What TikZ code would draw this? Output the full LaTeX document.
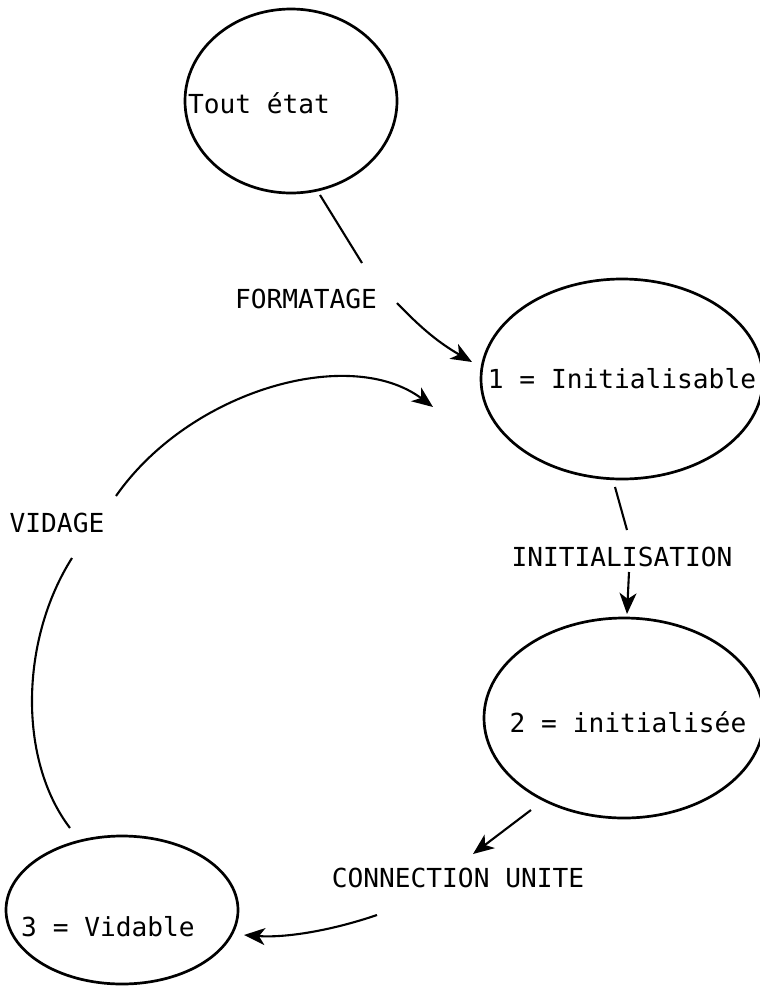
\documentclass[tikz,border=0pt]{standalone}
\usepackage{fontspec}
\newfontfamily\typewr{DejaVu Sans Mono}
\usetikzlibrary{shapes.geometric,arrows.meta}
\begin{document}
\begin{tikzpicture}[x=1pt,y=-1pt,
  state/.style={draw,ellipse,line width=2.7pt,inner sep=0pt},
  lbl/.style={font=\typewr\fontsize{26.2}{30}\selectfont,inner sep=0pt},
  conn/.style={line width=2.1pt},
  arr/.style={conn,-{Stealth[length=21pt,width=17pt,inset=6pt]}}]
\useasboundingbox (0,0) rectangle (760,994);

% states
\node[state,minimum width=212pt,minimum height=184pt,
      label={[lbl,xshift=-32pt,yshift=-2pt]center:Tout état}] (s0) at (291,101) {};
\node[state,minimum width=282pt,minimum height=200pt,
      label={[lbl,xshift=0pt]center:1 = Initialisable}] (s1) at (622,379) {};
\node[state,minimum width=280pt,minimum height=200pt,
      label={[lbl,xshift=4pt,yshift=-4pt]center:2 = initialisée}] (s2) at (624,718) {};
\node[state,minimum width=232pt,minimum height=148pt,
      label={[lbl,xshift=-14pt,yshift=-17pt]center:3 = Vidable}] (s3) at (122,910) {};

% transition labels
\node[lbl] (tform) at (306,299) {FORMATAGE};
\node[lbl] (tinit) at (622,557) {INITIALISATION};
\node[lbl] (tconn) at (458,878) {CONNECTION UNITE};
\node[lbl] (tvid)  at (57,523)  {VIDAGE};

% free ends of connectors
\coordinate (f0) at (320,195);
\coordinate (f1) at (362,263);
\coordinate (f2) at (397,303);
\coordinate (f3) at (472,362);
\coordinate (i0) at (615,487);
\coordinate (i1) at (627,530);
\coordinate (i2) at (629,572);
\coordinate (i3) at (627,614);
\coordinate (c0) at (531,810);
\coordinate (c1) at (473,854);
\coordinate (c2) at (377,915);
\coordinate (c3) at (244,935);
\coordinate (v0) at (70,828);
\coordinate (v1) at (72,558);
\coordinate (v2) at (116,496);
\coordinate (v3) at (433,407);

% FORMATAGE
\draw[conn] (f0) -- (f1);
\draw[arr] (f2) to[bend right=8] (f3);
% INITIALISATION
\draw[conn] (i0) -- (i1);
\draw[arr] (i2) -- (i3);
% CONNECTION UNITE
\draw[arr] (c0) -- (c1);
\draw[arr] (c2) .. controls (330,931) and (285,938) .. (c3);
% VIDAGE
\draw[conn] (v0) .. controls (18,760) and (20,640) .. (v1);
\draw[arr] (v2) .. controls (190,390) and (350,345) .. (v3);
\end{tikzpicture}
\end{document}
